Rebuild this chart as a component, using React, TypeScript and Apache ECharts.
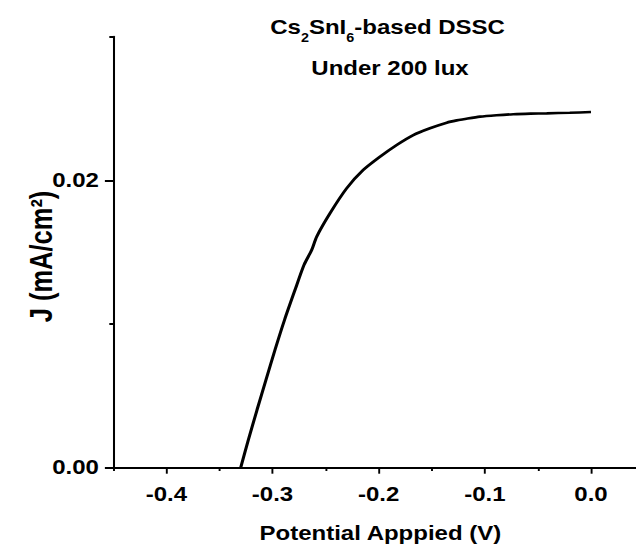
import React, { useEffect, useRef } from "react";
import * as echarts from "echarts";

// J–V curve of the Cs2SnI6-based DSSC under 200 lux
const voltage = [
  -0.330, -0.3228, -0.3146, -0.3062, -0.2977, -0.2887, -0.2788, -0.2703,
  -0.2631, -0.2584, -0.2459, -0.2302, -0.2145, -0.1988, -0.1830, -0.1674,
  -0.1517, -0.1359, -0.1265, -0.1200, -0.1046, -0.0890, -0.0732, -0.0570,
  -0.0417, -0.0200, 0.0,
];
const current = [
  0.0, 0.00193, 0.00402, 0.0061, 0.00819, 0.01028, 0.01237, 0.01411,
  0.01515, 0.01608, 0.0177, 0.01944, 0.02072, 0.02164, 0.02246, 0.02315,
  0.02362, 0.02401, 0.02417, 0.02425, 0.02443, 0.02453, 0.0246, 0.02464,
  0.02466, 0.0247, 0.02475,
];

const xMajorTicks = [-0.4, -0.3, -0.2, -0.1, 0.0];
const xMinorTicks = [-0.45, -0.35, -0.25, -0.15, -0.05];
const yMajorTicks = [0.0, 0.02];
const yMinorTicks = [0.01, 0.03];

const titleLine1 = "{n|Cs}{s|2}{n|SnI}{s|6}{n|-based DSSC}";
const titleLine2 = "Under 200 lux";
const xName = "Potential Apppied (V)";
const yName = "J (mA/cm²)";

const FONT = "'Liberation Sans', Arial, Helvetica, sans-serif";
const STRETCH = 1.2;
const W = 636 / STRETCH;
const H = 548;

export default function App() {
  const ref = useRef<HTMLDivElement>(null);

  useEffect(() => {
    if (!ref.current) return;
    const chart = echarts.init(ref.current, null, { renderer: "svg" });
    const data = voltage.map((v, i) => [v, current[i]]);
    const labelStyle = {
      fontFamily: FONT,
      fontWeight: "bold" as const,
      fontSize: 20,
      color: "#000",
    };
    const xBase = {
      type: "value" as const,
      min: -0.45,
      max: 0.0424,
      position: "bottom" as const,
      splitLine: { show: false },
    };
    const yBase = {
      type: "value" as const,
      min: 0,
      max: 0.03,
      position: "left" as const,
      splitLine: { show: false },
    };
    chart.setOption({
      animation: false,
      backgroundColor: "#fff",
      grid: {
        left: 94.4,
        right: 0,
        top: 36.6,
        bottom: 80.3,
        containLabel: false,
        outerBoundsMode: "none",
      },
      xAxis: [
        {
          ...xBase,
          axisLine: { show: true, onZero: false, lineStyle: { color: "#000", width: 2 } },
          axisTick: {
            show: true,
            customValues: xMajorTicks,
            length: 6,
            lineStyle: { color: "#000", width: 1.6 },
          },
          axisLabel: {
            ...labelStyle,
            customValues: xMajorTicks,
            margin: 17,
            formatter: (v: number) => v.toFixed(1),
          },
        },
        {
          ...xBase,
          axisLine: { show: false, onZero: false },
          axisTick: {
            show: true,
            customValues: xMinorTicks,
            length: 3.3,
            lineStyle: { color: "#000", width: 1.6 },
          },
          axisLabel: { show: false },
        },
      ],
      yAxis: [
        {
          ...yBase,
          axisLine: { show: true, onZero: false, lineStyle: { color: "#000", width: 1.7 } },
          axisTick: {
            show: true,
            customValues: yMajorTicks,
            length: 7,
            lineStyle: { color: "#000", width: 2 },
          },
          axisLabel: {
            ...labelStyle,
            customValues: yMajorTicks,
            margin: 12,
            formatter: (v: number) => v.toFixed(2),
          },
        },
        {
          ...yBase,
          axisLine: { show: false, onZero: false },
          axisTick: {
            show: true,
            customValues: yMinorTicks,
            length: 3.3,
            lineStyle: { color: "#000", width: 2 },
          },
          axisLabel: { show: false },
        },
      ],
      graphic: [
        {
          type: "text",
          x: 323,
          y: 27,
          style: {
            text: titleLine1,
            align: "center",
            verticalAlign: "middle",
            fill: "#000",
            font: `bold 20px ${FONT}`,
            rich: {
              n: { font: `bold 20px ${FONT}`, fill: "#000" },
              s: {
                font: `bold 12px ${FONT}`,
                fill: "#000",
                padding: [22, 0, 0, 0],
              },
            },
          },
        },
        {
          type: "text",
          x: 325,
          y: 68,
          style: {
            text: titleLine2,
            align: "center",
            verticalAlign: "middle",
            fill: "#000",
            font: `bold 20px ${FONT}`,
          },
        },
        {
          type: "text",
          x: 317,
          y: 533,
          style: {
            text: xName,
            align: "center",
            verticalAlign: "middle",
            fill: "#000",
            font: `bold 20px ${FONT}`,
          },
        },
        {
          type: "text",
          x: 35,
          y: 256.5,
          rotation: Math.PI / 2,
          style: {
            text: yName,
            align: "center",
            verticalAlign: "middle",
            fill: "#000",
            font: `bold 25.5px ${FONT}`,
          },
        },
      ],
      series: [
        {
          type: "line",
          xAxisIndex: 0,
          yAxisIndex: 0,
          data,
          showSymbol: false,
          smooth: 0.25,
          lineStyle: { color: "#000", width: 2.6 },
        },
      ],
    });
    return () => chart.dispose();
  }, []);

  return (
    <div
      style={{
        position: "fixed",
        left: 0,
        top: 0,
        width: 636,
        height: H,
        overflow: "hidden",
        background: "#fff",
      }}
    >
      <div
        ref={ref}
        style={{
          width: W,
          height: H,
          transform: `scaleX(${STRETCH})`,
          transformOrigin: "0 0",
        }}
      />
    </div>
  );
}
